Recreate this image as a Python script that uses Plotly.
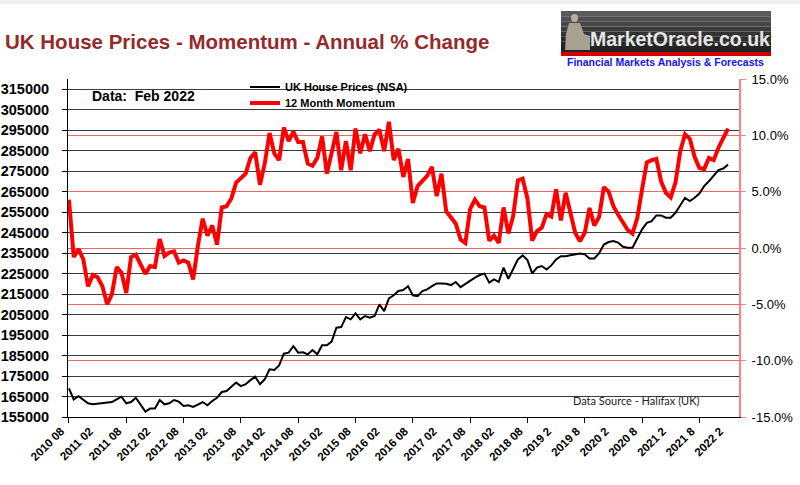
import plotly.graph_objects as go

# ---------------- data ----------------
months = [f"{2010 + (7 + k) // 12}-{(7 + k) % 12 + 1:02d}" for k in range(139)]  # 2010-08 .. 2022-02

house_price = [
    169000, 163600, 165200, 163300, 161700, 161200, 161500, 161800, 162000, 162300,
    163600, 164900, 161700, 162300, 164400, 160700, 157600, 159100, 159100, 163300,
    161200, 161700, 163300, 162500, 160400, 160700, 159900, 161000, 162300, 160700,
    162800, 164400, 167200, 167700, 169600, 171800, 170100, 171000, 173000, 174700,
    171000, 173400, 178300, 178000, 180200, 185900, 186400, 189600, 186400, 186600,
    185600, 187700, 185600, 190000, 190000, 191800, 198600, 198900, 203800, 202700,
    205600, 202700, 204300, 203500, 204300, 210000, 206700, 212900, 214400, 216500,
    217000, 218800, 214400, 214000, 216500, 217300, 218900, 220200, 220200, 220000,
    219400, 220900, 218400, 220000, 221300, 223000, 224300, 225000, 220600, 222200,
    221000, 227900, 222500, 227000, 231900, 233900, 231600, 225100, 227900, 228700,
    227000, 229000, 231900, 233500, 233500, 234000, 234400, 234800, 234400, 232400,
    232400, 234900, 239200, 240400, 240900, 240100, 238100, 237600, 237600, 242000,
    246600, 249800, 250600, 253400, 253400, 252300, 252300, 254700, 258300, 262000,
    260400, 262000, 264100, 267700, 270100, 272900, 275500, 276300, 278200,
]

momentum = [
    4.3, -0.8, -0.1, -1.0, -3.4, -2.4, -2.6, -3.4, -5.0, -4.1,
    -1.7, -2.2, -4.0, -0.8, -0.6, -1.4, -2.3, -1.6, -1.7, 0.8,
    -0.7, -0.4, -0.3, -1.3, -1.1, -1.3, -2.8, 0.2, 2.6, 1.1,
    2.0, 0.3, 3.6, 3.7, 4.4, 5.8, 6.2, 6.6, 8.0, 8.5,
    5.6, 7.5, 10.2, 8.4, 7.8, 10.7, 9.5, 10.3, 9.4, 9.4,
    7.5, 7.3, 8.0, 9.9, 6.6, 8.3, 10.3, 6.9, 9.5, 6.9,
    10.6, 8.4, 10.1, 8.6, 10.1, 10.5, 8.6, 11.2, 7.8, 8.8,
    6.3, 7.9, 4.0, 5.5, 6.0, 6.4, 7.2, 4.6, 6.6, 3.25,
    2.7, 2.15, 0.75, 0.45, 3.45, 4.3, 3.7, 3.6, 0.65, 1.1,
    0.45, 3.6, 1.3, 2.8, 6.0, 6.15, 4.4, 0.65, 1.5, 1.8,
    3.0, 2.8, 5.2, 2.45, 4.9, 3.1, 1.35, 0.6, 1.35, 3.55,
    2.0, 2.75, 5.4, 5.0, 3.7, 2.95, 2.2, 1.6, 1.27, 2.66,
    5.2, 7.6, 7.8, 7.9, 5.9, 4.9, 4.5, 5.8, 8.6, 10.1,
    9.7, 8.1, 7.1, 7.0, 8.0, 7.8, 8.9, 9.8, 10.6,
]

tick_labels = [
    "2010 08", "2011 02", "2011 08", "2012 02", "2012 08", "2013 02", "2013 08",
    "2014 02", "2014 08", "2015 02", "2015 08", "2016 02", "2016 08", "2017 02",
    "2017 08", "2018 02", "2018 08", "2019 2", "2019 8", "2020 2", "2020 8",
    "2021 2", "2021 8", "2022 2",
]
left_ticks = list(range(155000, 320000, 10000))
right_ticks = [-15, -10, -5, 0, 5, 10, 15]

# ---------------- figure ----------------
idx = list(range(len(months)))
label_pos = idx[::6]
tickmark_pos = idx[::12]

FONT = "Liberation Sans"

fig = go.Figure()
fig.add_trace(go.Scatter(
    x=idx, y=house_price, name="UK House Prices (NSA)", mode="lines",
    line=dict(color="black", width=2), yaxis="y", legend="legend",
    customdata=months, hovertemplate="%{customdata}: %{y}<extra></extra>",
))
fig.add_trace(go.Scatter(
    x=idx, y=momentum, name="12 Month Momentum", mode="lines",
    line=dict(color="#FF0000", width=4), yaxis="y2", legend="legend2",
    customdata=months, hovertemplate="%{customdata}: %{y}%<extra></extra>",
))

W, H = 800, 485
PL, PR, PT, PB = 68, 739, 79, 417          # plot area in pixels
L, R, T, B = PL, W - PR, PT, H - PB
PW, PH = PR - PL, PB - PT


def px(x):
    return (x - PL) / PW


def py(y):
    return (PB - y) / PH


fig.update_layout(
    width=W, height=H,
    margin=dict(l=L, r=R, t=T, b=B, autoexpand=False),
    paper_bgcolor="white", plot_bgcolor="white",
    font=dict(family=FONT, color="black"),
    xaxis=dict(
        range=[-0.2, 140.3], tickmode="array", tickvals=label_pos, ticktext=tick_labels,
        tickangle=-45, ticks="", showgrid=False, zeroline=False, automargin=False,
        showline=True, linecolor="black", linewidth=1,
        ticklabelshift=-8, ticklabelstandoff=2,
        tickfont=dict(family=FONT, size=11.5, weight="bold", color="black"),
        minor=dict(tickmode="array", tickvals=tickmark_pos, ticks="outside",
                   ticklen=5, tickcolor="black", tickwidth=1, showgrid=False),
    ),
    yaxis=dict(
        range=[155000, 320000], tickmode="array", tickvals=left_ticks,
        ticktext=[str(v) for v in left_ticks], automargin=False,
        showgrid=True, gridcolor="#3c3c3c", gridwidth=1.2, zeroline=False,
        showline=True, linecolor="black", linewidth=1,
        ticks="outside", ticklen=5, tickcolor="black",
        ticklabelstandoff=10,
        tickfont=dict(family=FONT, size=14.5, weight="bold", color="black"),
    ),
    yaxis2=dict(
        range=[-15, 15], tickmode="array", tickvals=right_ticks,
        ticktext=[f"{v:.1f}%" for v in right_ticks], automargin=False,
        overlaying="y", side="right",
        showgrid=True, gridcolor="#FF6464", gridwidth=1, zeroline=False,
        showline=True, linecolor="#FF8080", linewidth=2,
        ticks="outside", ticklen=5, tickcolor="#FF8080",
        ticklabelstandoff=3,
        tickfont=dict(family=FONT, size=13, color="black"),
    ),
    legend=dict(
        x=px(245), y=py(87), xanchor="left", yanchor="middle",
        bgcolor="rgba(0,0,0,0)", itemwidth=30,
        font=dict(family=FONT, size=11, weight="bold", color="black"),
    ),
    legend2=dict(
        x=px(245), y=py(103), xanchor="left", yanchor="middle",
        bgcolor="rgba(0,0,0,0)", itemwidth=30,
        font=dict(family=FONT, size=11, weight="bold", color="black"),
    ),
    showlegend=True,
)

shapes = [
    dict(type="rect", xref="paper", yref="paper", x0=px(0), x1=px(800), y0=py(4), y1=py(0),
         fillcolor="#EEEEEE", line=dict(width=0), layer="below"),
]
# logo box (dark gradient made of strips)
logo_cols = ["#5a5a5a", "#505050", "#464646", "#3c3c3c", "#333333", "#2c2c2c", "#262626", "#222222"]
top, bot = 11, 52
step = (bot - top) / len(logo_cols)
for k, c in enumerate(logo_cols):
    shapes.append(dict(type="rect", xref="paper", yref="paper",
                       x0=px(561), x1=px(771), y0=py(top + (k + 1) * step), y1=py(top + k * step),
                       fillcolor=c, line=dict(width=0)))
shapes.append(dict(type="rect", xref="paper", yref="paper", x0=px(561), x1=px(771),
                   y0=py(56), y1=py(52), fillcolor="#D40000", line=dict(width=0)))
# statue silhouette
shapes.append(dict(type="circle", xref="paper", yref="paper", x0=px(571), x1=px(578),
                   y0=py(22), y1=py(14), fillcolor="#B8B0A0", line=dict(width=0)))
shapes.append(dict(type="path", xref="paper", yref="paper",
                   path=(f"M {px(569)},{py(23)} L {px(580)},{py(23)} L {px(584)},{py(34)} "
                         f"L {px(590)},{py(36)} L {px(590)},{py(50)} L {px(565)},{py(50)} "
                         f"L {px(566)},{py(34)} Z"),
                   fillcolor="#A8A090", line=dict(width=0)))
fig.update_layout(shapes=shapes)

annotations = [
    dict(text="UK House Prices - Momentum - Annual % Change", x=px(3), y=py(41),
         xanchor="left", yanchor="middle", showarrow=False,
         font=dict(family=FONT, size=20.5, weight="bold", color="#952A2A")),
    dict(text="MarketOracle.co.uk", x=px(680), y=py(39), xanchor="center", yanchor="middle",
         showarrow=False, font=dict(family=FONT, size=19.5, weight="bold", color="#E6E6E6")),
    dict(text="Financial Markets Analysis & Forecasts", x=px(665), y=py(62),
         xanchor="center", yanchor="middle", showarrow=False,
         font=dict(family=FONT, size=10.5, weight="bold", color="#1414F0")),
    dict(text="Data:\u00a0 Feb 2022", x=px(90), y=py(96), xanchor="left", yanchor="middle",
         showarrow=False, font=dict(family=FONT, size=14, weight="bold", color="black")),
    dict(text="Data Source - Halifax (UK)", x=px(636), y=py(400), xanchor="center",
         yanchor="middle", showarrow=False, font=dict(family="Lato", size=11, color="#222222")),
]
for a in annotations:
    a["xref"] = "paper"
    a["yref"] = "paper"
fig.update_layout(annotations=annotations)

# remove the browser's default 8px page margin so the figure sits at the window origin
fig.write_html("out.html", config={"displayModeBar": False},
               post_script="document.body.style.margin='0px';")
